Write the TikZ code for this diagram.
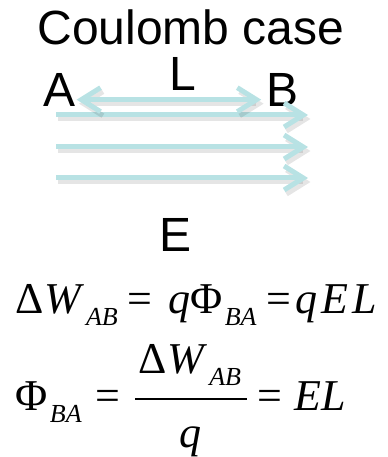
\documentclass[tikz,border=0pt]{standalone}
\usepackage{fontspec}
\setmainfont{Liberation Sans}
\newfontfamily\eqfont{Liberation Serif}
\usetikzlibrary{arrows.meta, positioning}
\definecolor{fieldcyan}{RGB}{184,226,228}
\newcommand{\sbs}[1]{\raisebox{-3pt}{\fontsize{6.5}{7}\selectfont\itshape #1}}

\begin{document}
\begin{tikzpicture}[
		x=0.25pt, y=-0.25pt,
		lbl/.style={font=\fontsize{12}{14}\selectfont, inner sep=0pt},
		eqn/.style={font=\eqfont\fontsize{11}{13}\selectfont, inner sep=0pt},
		barb/.tip={Straight Barb[length=4.8pt, width=6pt]},
		fieldline/.style={draw=fieldcyan, line width=1.25pt, -barb},
		dblline/.style={fieldline, barb-barb},
		shade/.style={draw=black, draw opacity=0.1, line width=1.25pt, -barb}
		]
		\useasboundingbox (0,0) rectangle (387,457);
		
		% Labels
		\node[lbl, anchor=base] (title) at (191,45) {Coulomb case};
		\node[lbl, anchor=base west] (A) at (43,107) {A};
		\node[lbl, anchor=base west] (B) at (266,107) {B};
		\node[lbl, anchor=base] (L) at (183,91) {L};
		\node[lbl, anchor=base] (E) at (176,252) {E};
		
		% Field lines
		\foreach \y [count=\i] in {115,147,178} {
			\coordinate (s\i) at (56,\y);
			\coordinate (t\i) at (308,\y);
			\draw[shade] ([shift={(0.6pt,-1pt)}]s\i) -- ([shift={(0.6pt,-1pt)}]t\i);
			\draw[fieldline] (s\i) -- (t\i);
		}
		
		% Distance L
		\draw[shade, barb-barb, shorten >=1.2pt] ([shift={(0.6pt,-3.3pt)}]A.east) -- ([shift={(0.6pt,-3.3pt)}]B.west);
		\draw[dblline, shorten >=1.2pt] ([yshift=-2.3pt]A.east) -- ([yshift=-2.3pt]B.west);
		
		% Equations
		\node[eqn, anchor=base west] (eq1) at (15,313)
		{Δ\textit{W}\kern0.5pt\sbs{AB}\hspace{2.5pt}=\hspace{4pt}\textit{q}Φ\kern0.5pt\sbs{BA}\hspace{2.5pt}=\hspace{1pt}\textit{q\kern1pt E\kern1pt L}};
		\node[eqn, anchor=base west] (lhs) at (15,410) {Φ\kern0.5pt\sbs{BA}\hspace{3.5pt}=};
		\node[eqn, anchor=base] (num) at (190,373) {Δ\textit{W}\kern0.5pt\sbs{AB}};
		\node[eqn, anchor=base] (den) at (190,447) {\textit{q}};
		\node[eqn, anchor=base west] (rhs) at (257,410) {=\hspace{3pt}\textit{EL}};
		\draw[line width=0.5pt] (135,399) -- (247,399);
	\end{tikzpicture}
\end{document}
